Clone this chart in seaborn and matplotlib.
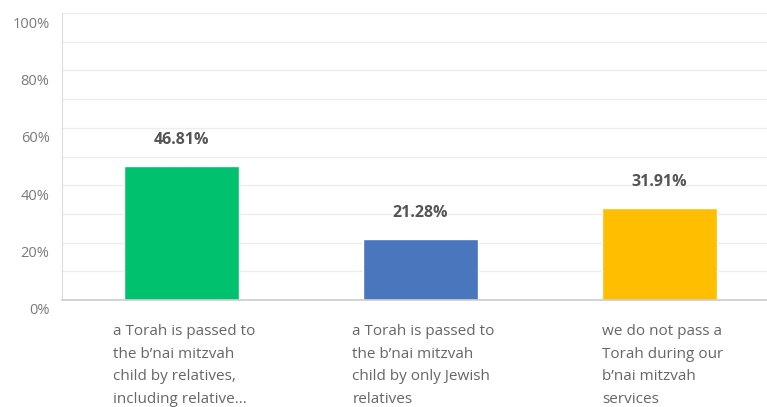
import matplotlib
matplotlib.use("Agg")
import matplotlib.pyplot as plt
import matplotlib.transforms as mtransforms
import seaborn as sns
import pandas as pd

# values
categories = [
    "a Torah is passed to\nthe b\u2019nai mitzvah\nchild by relatives,\nincluding relative...",
    "a Torah is passed to\nthe b\u2019nai mitzvah\nchild by only Jewish\nrelatives",
    "we do not pass a\nTorah during our\nb\u2019nai mitzvah\nservices",
]
percents = [46.81, 21.28, 31.91]
bar_colors = ["#00C16E", "#4A76BE", "#FFBE00"]
y_ticks = [0, 20, 40, 60, 80, 100]

df = pd.DataFrame({"answer": categories, "pct": percents})

sns.set_style("white")
plt.rcParams["font.family"] = ["Open Sans", "DejaVu Sans"]

fig = plt.figure(figsize=(7.67, 4.07), dpi=100)
ax = fig.add_axes([62 / 767, 107 / 407, 717 / 767, 287 / 407])

sns.barplot(data=df, x="answer", y="pct", hue="answer", palette=bar_colors,
            width=0.48, saturation=1, legend=False, ax=ax)

ax.set_xlim(-0.5, 2.5)
ax.set_ylim(0, 100)

# light grid every 10%
for g in range(10, 101, 10):
    ax.axhline(g, color="#EDEDED", lw=1, zorder=0)
ax.set_axisbelow(True)

for s in ["top", "right"]:
    ax.spines[s].set_visible(False)
ax.spines["left"].set_color("#DDDDDD")
ax.spines["bottom"].set_color("#CCCCCC")
ax.spines["bottom"].set_linewidth(1.2)

ax.set_yticks(y_ticks)
ax.set_yticklabels([f"{t}%" for t in y_ticks])
ax.tick_params(axis="y", length=0, pad=9, labelsize=10.5, labelcolor="#7A7A7A")
shift = mtransforms.ScaledTranslation(0, -9 / 100, fig.dpi_scale_trans)
for lab in ax.get_yticklabels():
    lab.set_transform(lab.get_transform() + shift)

ax.tick_params(axis="x", length=0, pad=17, labelsize=11, labelcolor="#666666")
for lab in ax.get_xticklabels():
    lab.set_multialignment("left")
    lab.set_linespacing(1.72)
    lab.set_transform(lab.get_transform() +
                      mtransforms.ScaledTranslation(3 / 100, 0, fig.dpi_scale_trans))

ax.set_xlabel("")
ax.set_ylabel("")

for i, v in enumerate(percents):
    ax.annotate(f"{v:.2f}%", (i, v), xytext=(0, 13), textcoords="offset points",
                ha="center", va="bottom", fontsize=11.5, fontweight="bold",
                color="#555555")

fig.savefig("out.png", dpi=100)
